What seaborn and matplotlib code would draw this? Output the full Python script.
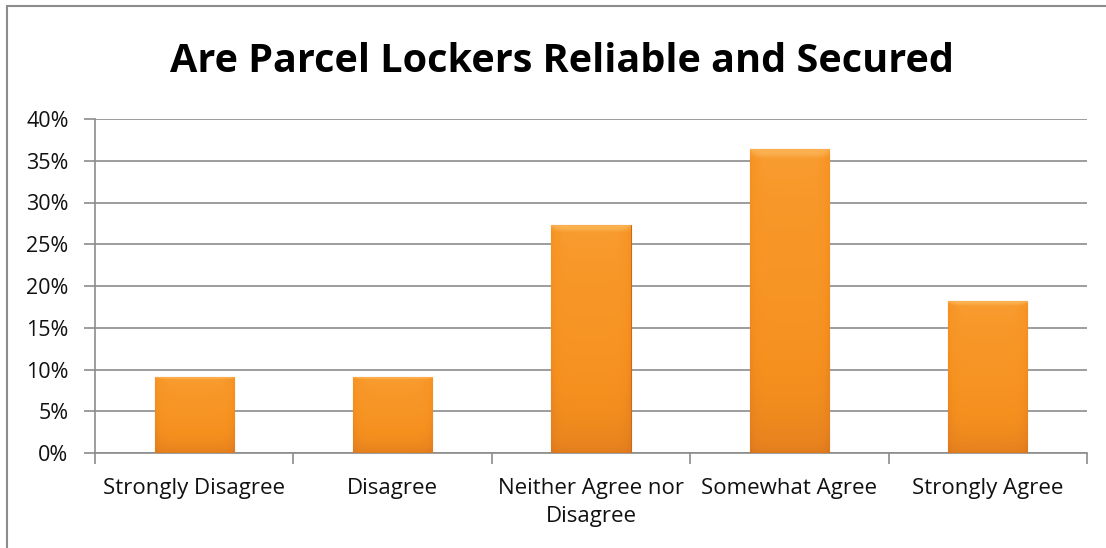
import numpy as np
import pandas as pd
import matplotlib
matplotlib.use("Agg")
import matplotlib.pyplot as plt
import seaborn as sns
from matplotlib.colors import LinearSegmentedColormap
from matplotlib.lines import Line2D
from matplotlib.ticker import FuncFormatter, MultipleLocator

categories = ["Strongly Disagree", "Disagree", "Neither Agree nor\nDisagree",
              "Somewhat Agree", "Strongly Agree"]
values = [9.09, 9.09, 27.27, 36.36, 18.18]
title = "Are Parcel Lockers Reliable and Secured"

df = pd.DataFrame({"category": categories, "value": values})

sns.set_theme(style="white")
plt.rcParams["font.family"] = ["Open Sans", "DejaVu Sans"]

W, H = 1106, 548
fig = plt.figure(figsize=(W / 100, H / 100), dpi=100)
ax = fig.add_axes([95 / W, 1 - 453 / H, (1087 - 95) / W, (453 - 119) / H])

sns.barplot(data=df, x="category", y="value", ax=ax, color="#F7941D",
            width=0.4, saturation=1, zorder=3)

ax.set_ylim(0, 40)
ax.set_xlim(-0.5, len(categories) - 0.5)
ax.yaxis.set_major_locator(MultipleLocator(5))
ax.yaxis.set_major_formatter(FuncFormatter(lambda v, p: f"{int(v)}%"))
ax.grid(axis="y", color="#8c8c8c", linewidth=1.2, zorder=0)
ax.grid(axis="x", visible=False)
ax.set_axisbelow(True)
for s in ["top", "right"]:
    ax.spines[s].set_visible(False)
for s in ["left", "bottom"]:
    ax.spines[s].set_color("#8c8c8c")
    ax.spines[s].set_linewidth(1.2)
ax.set_xlabel("")
ax.set_ylabel("")

# y ticks outward
ax.tick_params(axis="y", which="major", direction="out", length=8, width=1.2,
               color="#8c8c8c", left=True, labelsize=15.5, labelcolor="#111111", pad=11)
# x: labels at centers, ticks at boundaries
ax.tick_params(axis="x", which="major", length=0, labelsize=16, labelcolor="#111111", pad=18)
ax.set_xticks(range(len(categories)))
ax.set_xticklabels(categories, linespacing=1.45, va="top")
ax.set_xticks(np.arange(-0.5, len(categories), 1.0), minor=True)
ax.tick_params(axis="x", which="minor", direction="out", length=8, width=1.2,
               color="#8c8c8c", bottom=True)

# Gradient fill on bars
cmap = LinearSegmentedColormap.from_list(
    "orng", ["#C9661C", "#E47F1F", "#F5901E", "#F8982A", "#FBB04F"])
for patch in ax.patches:
    x0, y0 = patch.get_x(), patch.get_y()
    w, h = patch.get_width(), patch.get_height()
    patch.set_edgecolor("#C9691C")
    patch.set_linewidth(0.8)
    yy = np.linspace(0, 1, 200)[:, None]
    xx = np.linspace(0, 1, 60)[None, :]
    side = 1 - 0.3 * (np.abs(xx - 0.5) * 2) ** 8
    grad = (0.2 + 0.6 * np.sqrt(yy)) * side
    top = np.clip((yy - 0.97) / 0.03, 0, 1) * 0.35
    grad = np.clip(grad + top, 0, 1)
    im = ax.imshow(grad, extent=[x0, x0 + w, y0, y0 + h], origin="lower",
                   cmap=cmap, vmin=0, vmax=1, aspect="auto", zorder=3.5,
                   interpolation="bilinear")
    im.set_clip_path(patch)

ax.set_xlim(-0.5, len(categories) - 0.5)
ax.set_ylim(0, 40)

fig.text(562 / W, 1 - 62 / H, title, ha="center", va="center",
         fontsize=28.5, fontweight="bold", color="black")

# outer chart frame
fig.add_artist(Line2D([7 / W, 7 / W], [0, 1 - 6 / H], transform=fig.transFigure,
                      color="#8c8c8c", linewidth=1.5))
fig.add_artist(Line2D([7 / W, 1], [1 - 6 / H, 1 - 6 / H], transform=fig.transFigure,
                      color="#8c8c8c", linewidth=1.5))

fig.savefig("out.png", dpi=100)
